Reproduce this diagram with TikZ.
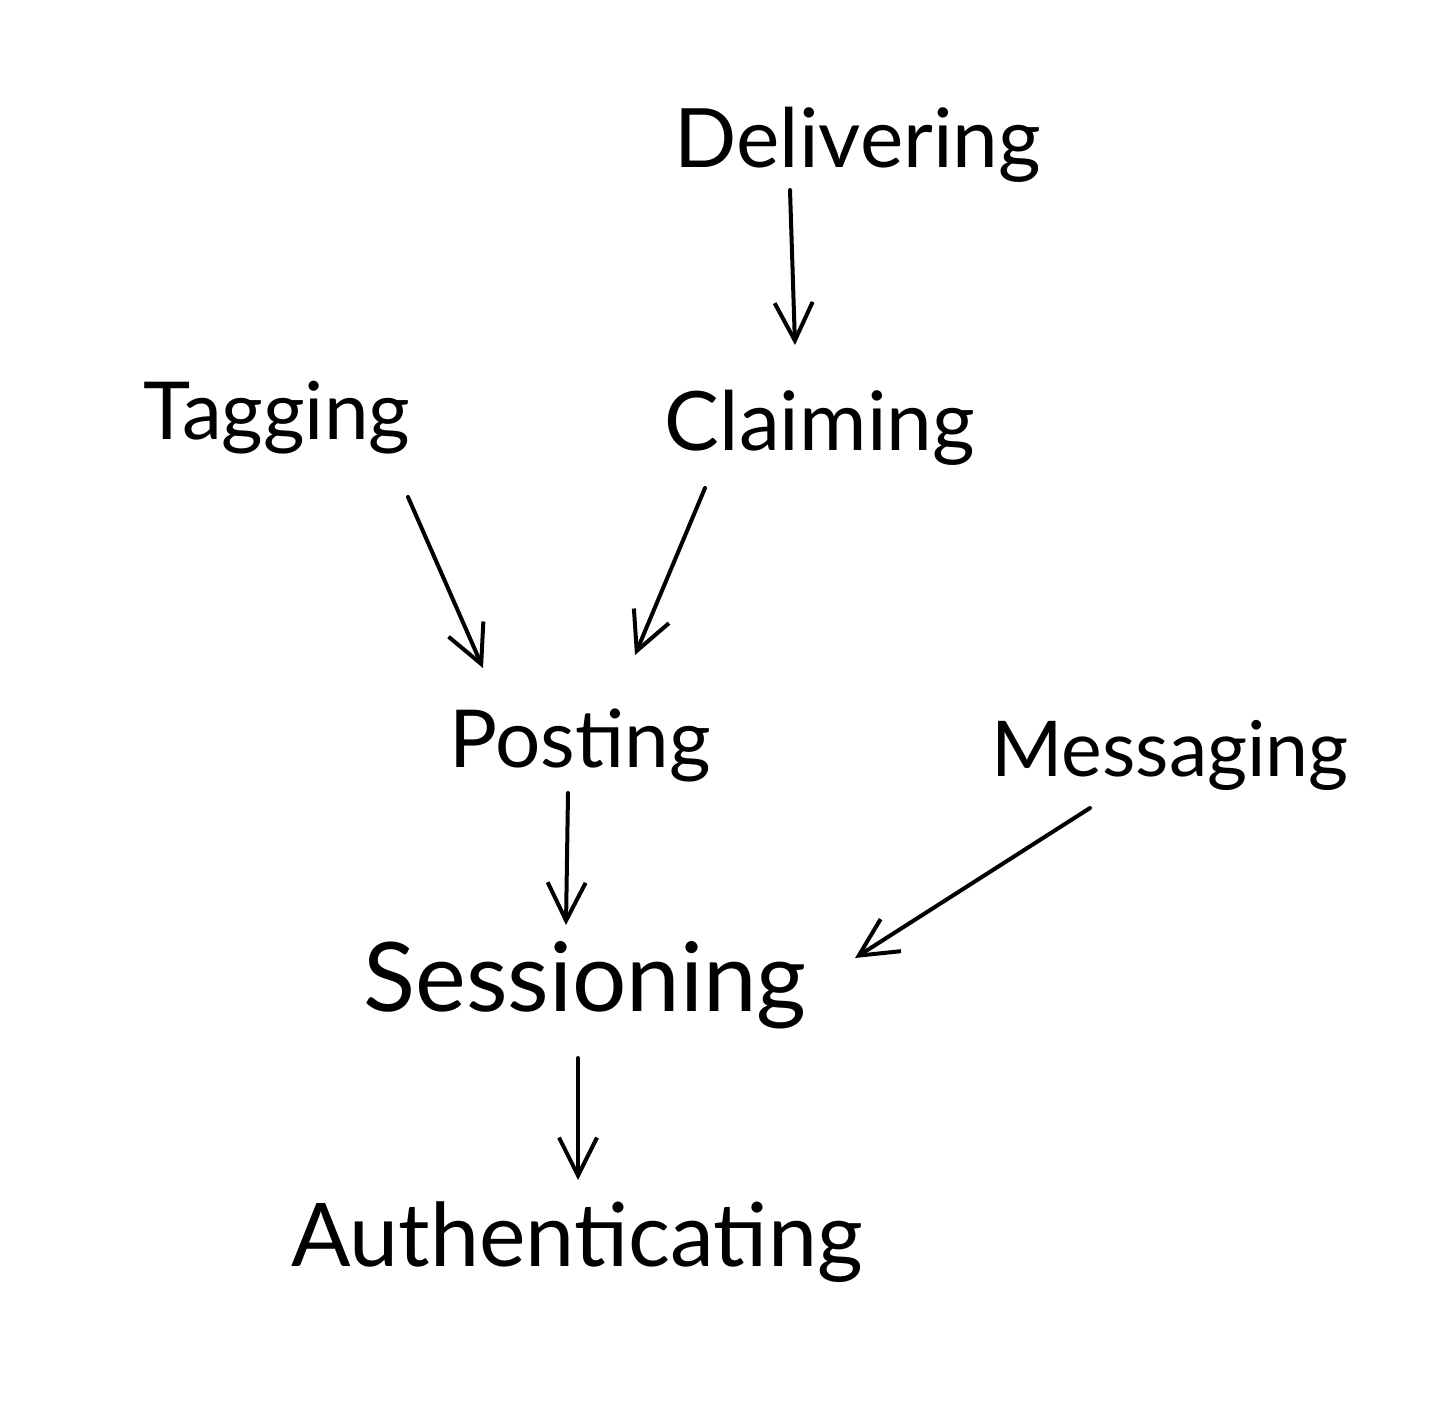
\documentclass[tikz,border=0pt]{standalone}
\usepackage{fontspec}
\setmainfont{Lato}
\usetikzlibrary{arrows.meta,calc}
\begin{document}
\begin{tikzpicture}[x=0.5pt,y=-0.5pt,
  lbl/.style={inner sep=0pt,font=\fontsize{40}{42}\selectfont},
  arr/.style={line width=2pt,line cap=round,-{Straight Barb[length=19pt,width=19pt,line width=2pt]}}]
\useasboundingbox (0,0) rectangle (1430,1402);
\node[lbl,font=\fontsize{41}{43}\selectfont] (deliv) at (858,145) {Delivering};
\node[lbl,font=\fontsize{41}{43}\selectfont] (claim) at (820,428) {Claiming};
\node[lbl] (tag) at (277,418) {Tagging};
\node[lbl] (post) at (580,745) {Posting};
\node[lbl,font=\fontsize{38.5}{40}\selectfont] (mess) at (1170,755) {Messaging};
\node[lbl,font=\fontsize{48}{50}\selectfont] (sess) at (585,985) {Sessioning};
\node[lbl,font=\fontsize{44}{46}\selectfont] (auth) at (577,1242) {Authenticating};
\draw[arr] ($(deliv)+(-68,45)$) -- ($(claim)+(-25,-83)$);
\draw[arr] ($(tag)+(131,79)$) -- ($(post)+(-97,-77)$);
\draw[arr] ($(claim)+(-115,60)$) -- ($(post)+(55,-90)$);
\draw[arr] ($(post)+(-12,48)$) -- ($(sess)+(-19,-60)$);
\draw[arr] ($(mess)+(-80,53)$) -- ($(sess)+(270,-27)$);
\draw[arr] ($(sess)+(-7,73)$) -- ($(auth)+(1,-62)$);
\end{tikzpicture}
\end{document}
